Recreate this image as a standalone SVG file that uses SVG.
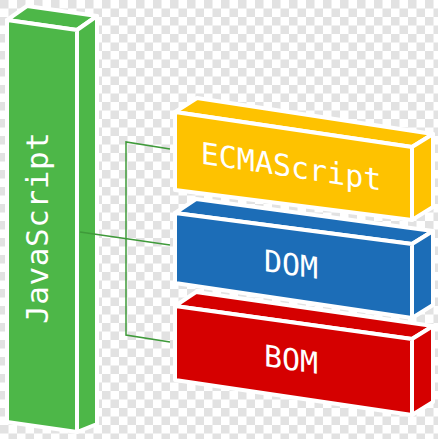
<svg xmlns="http://www.w3.org/2000/svg" width="438" height="439" viewBox="0 0 438 439">
<defs>
<pattern id="chk" width="17" height="17" patternUnits="userSpaceOnUse">
<rect width="17" height="17" fill="#ffffff"/>
<rect width="8.5" height="8.5" fill="#e2e2e2"/>
<rect x="8.5" y="8.5" width="8.5" height="8.5" fill="#e2e2e2"/>
</pattern>
</defs>
<style>
.face{stroke:#ffffff;stroke-width:4;stroke-linejoin:round}
.g{fill:#4db748}
.y{fill:#fec200}
.b{fill:#1c6db7}
.r{fill:#d50000}
.lbl{font-family:"DejaVu Sans Mono","Liberation Mono",monospace;font-size:30px;fill:#ffffff;text-anchor:middle}
.con{fill:none;stroke:#3f9a3a;stroke-width:1.5}
</style>
<rect width="438" height="439" fill="url(#chk)"/>
<g id="javascript">
<polygon class="face g" points="7,20 27,6 97,16 77,30"/>
<polygon class="face g" points="77,30 97,16 97,424 77,432"/>
<polygon class="face g" points="7,20 77,30 77,432 7,422"/>
<text class="lbl" transform="translate(48,228) rotate(-90)" textLength="192" style="font-size:31px">JavaScript</text>
</g>
<g id="bom">
<polygon class="face r" points="175,306 196,292 433,326 412,339"/>
<polygon class="face r" points="412,339 433,326 433,402 412,415"/>
<polygon class="face r" points="175,306 412,339 412,415 175,380"/>
<text class="lbl" transform="translate(291,370) skewY(8.5)">BOM</text>
</g>
<g id="dom">
<polygon class="face b" points="175,213 196,199 433,231 412,244"/>
<polygon class="face b" points="412,244 433,231 433,305 412,318"/>
<polygon class="face b" points="175,213 412,244 412,318 175,283"/>
<text class="lbl" transform="translate(291,275) skewY(8.5)">DOM</text>
</g>
<g id="ecmascript">
<polygon class="face y" points="175,112 197,98 433,134 412,147"/>
<polygon class="face y" points="412,147 433,134 433,207 412,220"/>
<polygon class="face y" points="175,112 412,147 412,220 175,190"/>
<text class="lbl" transform="translate(291,177) skewY(8.5)">ECMAScript</text>
</g>
<g id="connectors">
<polyline class="con" points="170,149 126,142 126,335 170,342"/>
<line class="con" x1="80" y1="232" x2="170" y2="245"/>
</g>
</svg>
